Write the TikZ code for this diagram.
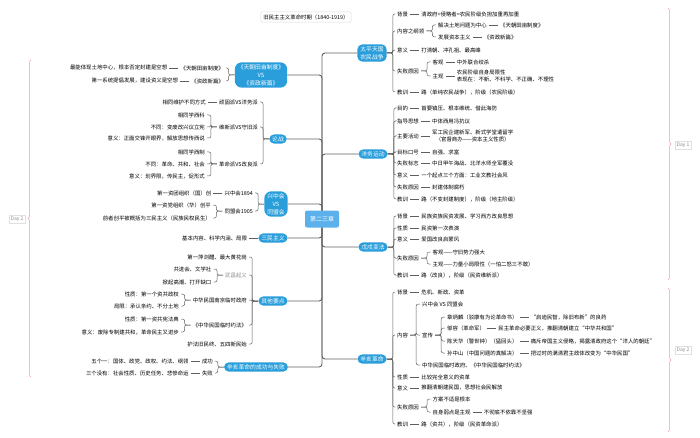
\documentclass[tikz,border=0pt]{standalone}
\usepackage{fontspec}
\setmainfont{Noto Sans CJK SC}
\usepackage{xcolor}
\usetikzlibrary{positioning, backgrounds, decorations.pathreplacing}
\definecolor{topicblue}{RGB}{41,158,219}
\definecolor{rootblue}{RGB}{92,176,236}
\definecolor{linegray}{RGB}{95,95,95}
\definecolor{daypink}{RGB}{232,160,160}

\begin{document}
\begin{tikzpicture}[x=1pt, y=-1pt,
    topic/.style={fill=topicblue, text=white, rounded corners=5pt, inner xsep=3pt, inner ysep=2pt, align=center, font=\fontsize{5.8}{8}\selectfont},
    leaf/.style={text=black, inner xsep=2pt, inner ysep=1pt, font=\fontsize{5.4}{7.6}\selectfont},
    rleaf/.style={leaf, anchor=west},
    lleaf/.style={leaf, anchor=east},
    twig/.style={draw=linegray, line width=0.5pt, rounded corners=2pt},
    trunk/.style={draw=linegray, line width=0.9pt, rounded corners=3pt},
    day/.style={draw=daypink, line width=0.5pt, decorate, decoration={brace, amplitude=3pt}},
    daytag/.style={draw=black!12, text=black!45, inner sep=1.5pt, font=\fontsize{5}{6}\selectfont}]

    \useasboundingbox (0,0) rectangle (700,438);

    \node[draw=black!15, rounded corners=1pt, inner sep=2.5pt, text=black, font=\fontsize{5.4}{6}\selectfont] (title) at (306,17) {旧民主主义革命时期（1840-1919）};
    \node[fill=rootblue, text=white, rounded corners=2pt, minimum width=34pt, minimum height=17pt, font=\fontsize{6}{7}\selectfont] (root) at (322,219) {第二三章};

    % main topics
    \node[topic] (taiping) at (372,53) {太平天国\\农民战争};
    \node[topic] (yangwu) at (373,154) {洋务运动};
    \node[topic] (wuxu) at (373,247) {戊戌变法};
    \node[topic] (xinhai) at (372,359) {辛亥革命};
    \node[topic, rounded corners=7pt] (tianchao) at (261,75) {《天朝田亩制度》\\VS\\《资政新篇》};
    \node[topic] (lunzhan) at (278,139) {论战};
    \node[topic, rounded corners=7pt] (xingzhong) at (276,204) {兴中会\\VS\\同盟会};
    \node[topic] (sanmin) at (273,238) {三民主义};
    \node[topic] (qita) at (273,301) {其他要点};
    \node[topic] (chengbai) at (256,367) {辛亥革命的成功与失败};

    % 太平天国
    \node[rleaf] (tp1) at (395,14) {背景};
    \node[rleaf, right=9pt of tp1] (tp1a) {清政府+侵略者=农民阶级负担加重再加重};
    \node[rleaf] (tp2) at (395,31) {内容之纲领};
    \node[rleaf] (tp2a) at (436,25) {解决土地问题为中心};
    \node[rleaf, right=9pt of tp2a] (tp2aa) {《天朝田亩制度》};
    \node[rleaf] (tp2b) at (436,37) {发展资本主义};
    \node[rleaf, right=9pt of tp2b] (tp2ba) {《资政新篇》};
    \node[rleaf] (tp3) at (395,50) {意义};
    \node[rleaf, right=9pt of tp3] (tp3a) {打清朝、冲孔祖、最高峰};
    \node[rleaf] (tp4) at (395,71) {失败原因};
    \node[rleaf] (tp4a) at (430.5,62) {客观};
    \node[rleaf, right=9pt of tp4a] (tp4aa) {中外联合绞杀};
    \node[rleaf] (tp4b) at (430.5,76) {主观};
    \node[rleaf, right=9pt of tp4b, align=left] (tp4ba) {农民阶级自身局限性\\表现在：不新、不科学、不正确、不理性};
    \node[rleaf] (tp5) at (395,92) {教训};
    \node[rleaf, right=9pt of tp5] (tp5a) {路（单纯农民战争），阶级（农民阶级）};

    % 洋务运动
    \node[rleaf] (yw1) at (395,108) {目的};
    \node[rleaf, right=9pt of yw1] (yw1a) {首要镇压、根本维统、借此海防};
    \node[rleaf] (yw2) at (395,121) {指导思想};
    \node[rleaf, right=9pt of yw2] (yw2a) {中体西用冯抗议};
    \node[rleaf] (yw3) at (395,136) {主要活动};
    \node[rleaf, right=9pt of yw3, align=center] (yw3a) {军工民企建新军、新式学堂遣留学\\（官督商办——资本主义性质）};
    \node[rleaf] (yw4) at (395,152) {目标口号};
    \node[rleaf, right=9pt of yw4] (yw4a) {自强、求富};
    \node[rleaf] (yw5) at (395,163) {失败标志};
    \node[rleaf, right=9pt of yw5] (yw5a) {中日甲午海战、北洋水师全军覆没};
    \node[rleaf] (yw6) at (395,175) {意义};
    \node[rleaf, right=9pt of yw6] (yw6a) {一个起点三个方面：工业文教社会风};
    \node[rleaf] (yw7) at (395,187) {失败原因};
    \node[rleaf, right=9pt of yw7] (yw7a) {封建体制腐朽};
    \node[rleaf] (yw8) at (395,199) {教训};
    \node[rleaf, right=9pt of yw8] (yw8a) {路（不变封建制度），阶级（地主阶级）};

    % 戊戌变法
    \node[rleaf] (wx1) at (395,216) {背景};
    \node[rleaf, right=9pt of wx1] (wx1a) {民族资族民资发展、学习西方改良思想};
    \node[rleaf] (wx2) at (395,228) {性质};
    \node[rleaf, right=9pt of wx2] (wx2a) {民资第一次表演};
    \node[rleaf] (wx3) at (395,239) {意义};
    \node[rleaf, right=9pt of wx3] (wx3a) {爱国改良启蒙风};
    \node[rleaf] (wx4) at (395,258) {失败原因};
    \node[rleaf] (wx4a) at (430.5,252) {客观——守旧势力强大};
    \node[rleaf] (wx4b) at (430.5,264) {主观——力量小局限性（一怕二怒三不敢）};
    \node[rleaf] (wx5) at (395,275) {教训};
    \node[rleaf, right=9pt of wx5] (wx5a) {路（改良），阶级（民资维新派）};

    % 辛亥革命
    \node[rleaf] (xh1) at (395,292) {背景};
    \node[rleaf, right=9pt of xh1] (xh1a) {危机、新政、资革};
    \node[rleaf] (xh2) at (395,335) {内容};
    \node[rleaf] (xh2a) at (420,304) {兴中会 VS 同盟会};
    \node[rleaf] (xh2b) at (420,335) {宣传};
    \node[rleaf] (xh2c) at (420,365) {中华民国临时政府、《中华民国临时约法》};
    \node[rleaf] (xc1) at (445,317) {章炳麟（驳康有为论革命书）};
    \node[rleaf, right=9pt of xc1] (xc1a) {“启迪民智，除旧布新”的良药};
    \node[rleaf] (xc2) at (445,328) {邹容（革命军）};
    \node[rleaf, right=9pt of xc2] (xc2a) {民主革命必要正义，推翻清朝建立“中华共和国”};
    \node[rleaf] (xc3) at (445,341) {陈天华（警世钟）（猛回头）};
    \node[rleaf, right=9pt of xc3] (xc3a) {痛斥帝国主义侵略，揭露清政府这个“洋人的朝廷”};
    \node[rleaf] (xc4) at (445,353) {孙中山（中国问题的真解决）};
    \node[rleaf, right=9pt of xc4] (xc4a) {把过时的满清君主政体改变为“中华民国”};
    \node[rleaf] (xh3) at (395,377) {性质};
    \node[rleaf, right=9pt of xh3] (xh3a) {比较完全意义的资革};
    \node[rleaf] (xh4) at (395,388) {意义};
    \node[rleaf, right=9pt of xh4] (xh4a) {推翻清朝建民国，思想社会民解放};
    \node[rleaf] (xh5) at (395,407) {失败原因};
    \node[rleaf] (xh5a) at (430.5,399) {方案不适是根本};
    \node[rleaf] (xh5b) at (430.5,412) {自身弱点是主观};
    \node[rleaf, right=9pt of xh5b] (xh5ba) {不彻底不依靠不坚强};
    \node[rleaf] (xh6) at (395,424) {教训};
    \node[rleaf, right=9pt of xh6] (xh6a) {路（资共），阶级（民资革命派）};

    % 天朝 VS 资政
    \node[lleaf] (tc1) at (226,68) {《天朝田亩制度》};
    \node[lleaf, left=9pt of tc1] (tc1a) {最能体现土地中心，根本否定封建是空想};
    \node[lleaf] (tc2) at (226,81) {《资政新篇》};
    \node[lleaf, left=9pt of tc2] (tc2a) {第一系统提倡发展，建设资义是空想};

    % 论战
    \node[lleaf] (lz1) at (260,102) {顽固派VS洋务派};
    \node[lleaf, left=9pt of lz1] (lz1a) {相同维护不同方式};
    \node[lleaf] (lz2) at (260,127) {维新派VS守旧派};
    \node[lleaf] (lz2a) at (207,115) {相同学西科};
    \node[lleaf] (lz2b) at (207,127) {不同：变废改兴议立宪};
    \node[lleaf] (lz2c) at (207,138) {意义：正面交锋开眼界，解放思想传西说};
    \node[lleaf] (lz3) at (260,164) {革命派VS改良派};
    \node[lleaf] (lz3a) at (207,152) {相同学西制};
    \node[lleaf] (lz3b) at (207,164) {不同：革命、共和、社会};
    \node[lleaf] (lz3c) at (207,176) {意义：划界限，传民主，促形式};

    % 兴中会 VS 同盟会
    \node[lleaf] (xz1) at (255,193) {兴中会1894};
    \node[lleaf, left=9pt of xz1] (xz1a) {第一资团组织（国）创};
    \node[lleaf] (xz2) at (255,211) {同盟会1905};
    \node[lleaf] (xz2a) at (213,205) {第一资党组织（华）创平};
    \node[lleaf] (xz2b) at (213,218) {前者创平被概括为三民主义（民族民权民生）};

    % 三民主义
    \node[lleaf, left=9pt of sanmin] (sm1) {基本内容、科学内涵、局限};

    % 其他要点
    \node[lleaf] (qt1) at (249,257) {第一萍浏醴、最大黄花岗};
    \node[lleaf, text=black!45] (qt2) at (249,275) {武昌起义};
    \node[lleaf] (qt2a) at (213.5,269) {共进会、文学社};
    \node[lleaf] (qt2b) at (213.5,282) {掀起高潮、打开缺口};
    \node[lleaf] (qt3) at (249,300) {中华民国南京临时政府};
    \node[lleaf] (qt3a) at (181,294) {性质：第一个资共政权};
    \node[lleaf] (qt3b) at (181,306) {局限：承认条约、不分土地};
    \node[lleaf] (qt4) at (249,325) {《中华民国临时约法》};
    \node[lleaf] (qt4a) at (181,319) {性质：第一资共宪法典};
    \node[lleaf] (qt4b) at (181,332) {意义：废除专制建共和，革命民主又进步};
    \node[lleaf] (qt5) at (249,344) {护法旧民终、五四新民始};

    % 成功与失败
    \node[lleaf] (cg1) at (215,361) {成功};
    \node[lleaf, left=9pt of cg1] (cg1a) {五个一：国体、政党、政权、约法、纲领};
    \node[lleaf] (cg2) at (215,373) {失败};
    \node[lleaf, left=9pt of cg2] (cg2a) {三个没有：社会性质、历史任务、悲惨命运};

    % connectors
    \begin{pgfonlayer}{background}
        \foreach \t in {taiping,yangwu,wuxu,xinhai}
            \draw[trunk] (root.center) |- (\t.west);
        \foreach \t in {tianchao,lunzhan,xingzhong,sanmin,qita,chengbai}
            \draw[trunk] (root.center) |- (\t.east);
    \end{pgfonlayer}

    \foreach \p/\c in {taiping/tp1,taiping/tp2,taiping/tp3,taiping/tp4,taiping/tp5,
                      tp2/tp2a,tp2/tp2b,tp4/tp4a,tp4/tp4b,
                      yangwu/yw1,yangwu/yw2,yangwu/yw3,yangwu/yw4,yangwu/yw5,yangwu/yw6,yangwu/yw7,yangwu/yw8,
                      wuxu/wx1,wuxu/wx2,wuxu/wx3,wuxu/wx4,wuxu/wx5,wx4/wx4a,wx4/wx4b,
                      xinhai/xh1,xinhai/xh2,xinhai/xh3,xinhai/xh4,xinhai/xh5,xinhai/xh6,
                      xh2/xh2a,xh2/xh2b,xh2/xh2c,xh2b/xc1,xh2b/xc2,xh2b/xc3,xh2b/xc4,xh5/xh5a,xh5/xh5b}
        \draw[twig] (\p.east) -- ++(6,0) |- (\c.west);

    \foreach \p/\c in {tianchao/tc1,tianchao/tc2,lunzhan/lz1,lunzhan/lz2,lunzhan/lz3,
                      lz2/lz2a,lz2/lz2b,lz2/lz2c,lz3/lz3a,lz3/lz3b,lz3/lz3c,
                      xingzhong/xz1,xingzhong/xz2,xz2/xz2a,xz2/xz2b,
                      qita/qt1,qita/qt2,qita/qt3,qita/qt4,qita/qt5,
                      qt2/qt2a,qt2/qt2b,qt3/qt3a,qt3/qt3b,qt4/qt4a,qt4/qt4b,
                      chengbai/cg1,chengbai/cg2}
        \draw[twig] (\p.west) -- ++(-6,0) |- (\c.east);

    \foreach \a/\b in {tp1/tp1a,tp2a/tp2aa,tp2b/tp2ba,tp3/tp3a,tp4a/tp4aa,tp4b/tp4ba,tp5/tp5a,
                      yw1/yw1a,yw2/yw2a,yw3/yw3a,yw4/yw4a,yw5/yw5a,yw6/yw6a,yw7/yw7a,yw8/yw8a,
                      wx1/wx1a,wx2/wx2a,wx3/wx3a,wx5/wx5a,
                      xh1/xh1a,xc1/xc1a,xc2/xc2a,xc3/xc3a,xc4/xc4a,xh3/xh3a,xh4/xh4a,xh5b/xh5ba,xh6/xh6a,
                      tc1/tc1a,tc2/tc2a,lz1/lz1a,xz1/xz1a,sanmin/sm1,cg1/cg1a,cg2/cg2a}
        \draw[twig] (\a) -- (\b);

    % day braces
    \coordinate (d1top) at (668,8);
    \coordinate (d1bot) at (668,280);
    \coordinate (d2top) at (668,288);
    \coordinate (d2bot) at (668,432);
    \coordinate (d3top) at (31,60);
    \coordinate (d3bot) at (31,377);
    \draw[day] (d1top) -- (d1bot);
    \draw[day] (d2top) -- (d2bot);
    \draw[day] (d3bot) -- (d3top);
    \node[daytag] (day1) at (683,145) {Day 1};
    \node[daytag] (day2r) at (683,350) {Day 2};
    \node[daytag] (day2l) at (17,219) {Day 2};
\end{tikzpicture}
\end{document}
